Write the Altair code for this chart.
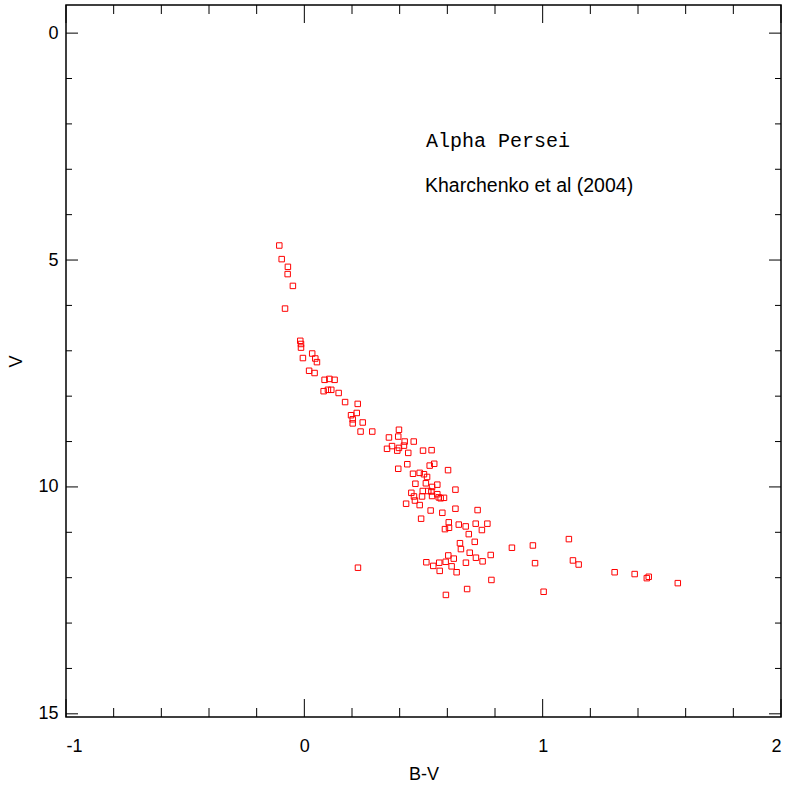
import altair as alt
import pandas as pd

# ---- data ----
bv = [-0.105, -0.095, -0.069, -0.070, -0.048, -0.081, -0.017, -0.014, -0.014, -0.006,
      0.033, 0.046, 0.053, 0.020, 0.043, 0.085, 0.105, 0.127, 0.081, 0.099,
      0.113, 0.144, 0.171, 0.224, 0.220, 0.196, 0.203, 0.203, 0.245, 0.236,
      0.285, 0.397, 0.355, 0.394, 0.421, 0.459, 0.418, 0.368, 0.347, 0.390,
      0.397, 0.436, 0.498, 0.534, 0.432, 0.394, 0.526, 0.545, 0.603, 0.456,
      0.484, 0.502, 0.515, 0.466, 0.510, 0.558, 0.536, 0.634, 0.449, 0.497,
      0.520, 0.533, 0.460, 0.494, 0.536, 0.558, 0.564, 0.572, 0.586, 0.464,
      0.427, 0.484, 0.530, 0.579, 0.634, 0.727, 0.490, 0.606, 0.648, 0.677,
      0.719, 0.768, 0.590, 0.607, 0.745, 0.690, 0.715, 0.653, 0.657, 0.694,
      0.782, 0.871, 0.604, 0.720, 0.748, 0.627, 0.512, 0.566, 0.593, 0.678,
      0.541, 0.618, 0.568, 0.639, 0.785, 0.683, 0.594, 0.959, 1.110, 0.968,
      1.127, 1.151, 1.004, 1.302, 1.386, 1.437, 1.445, 1.567, 0.225]
vmag = [4.68, 4.98, 5.15, 5.31, 5.57, 6.07, 6.78, 6.85, 6.93, 7.16,
        7.06, 7.17, 7.25, 7.44, 7.49, 7.64, 7.62, 7.64, 7.89, 7.86,
        7.86, 7.93, 8.13, 8.17, 8.37, 8.42, 8.51, 8.60, 8.58, 8.78,
        8.78, 8.74, 8.91, 8.89, 9.00, 9.00, 9.09, 9.10, 9.16, 9.20,
        9.14, 9.25, 9.20, 9.19, 9.50, 9.60, 9.53, 9.49, 9.63, 9.71,
        9.69, 9.72, 9.78, 9.93, 9.92, 9.95, 10.00, 10.06, 10.13, 10.09,
        10.09, 10.10, 10.21, 10.21, 10.20, 10.16, 10.23, 10.25, 10.24, 10.30,
        10.37, 10.40, 10.52, 10.57, 10.48, 10.51, 10.70, 10.78, 10.83, 10.87,
        10.81, 10.81, 10.93, 10.90, 10.95, 11.04, 11.21, 11.24, 11.37, 11.45,
        11.50, 11.34, 11.51, 11.56, 11.64, 11.58, 11.66, 11.67, 11.65, 11.67,
        11.74, 11.75, 11.85, 11.88, 12.05, 12.25, 12.38, 11.29, 11.15, 11.68,
        11.62, 11.71, 12.31, 11.88, 11.92, 12.01, 11.98, 12.12, 11.78]

x_major = [-1, 0, 1, 2]
x_minor = [-0.8, -0.6, -0.4, -0.2, 0.2, 0.4, 0.6, 0.8, 1.2, 1.4, 1.6, 1.8]
y_major = [0, 5, 10, 15]
y_minor = [1, 2, 3, 4, 6, 7, 8, 9, 11, 12, 13, 14]

title_text = ["Alpha Persei"]
source_text = ["Kharchenko et al (2004)"]

W, H = 715, 712
FONT = "Liberation Sans"

xscale = alt.Scale(domain=[-1, 2], nice=False, zero=False)
yscale = alt.Scale(domain=[-0.62, 15.07], nice=False, zero=False, reverse=True)
xaxis = alt.Axis(values=x_major, ticks=False, domain=False, grid=False,
                 labelPadding=20, titlePadding=10, labelExpr="'' + datum.value")
yaxis = alt.Axis(values=y_major, ticks=False, domain=False, grid=False,
                 labelPadding=8, titlePadding=12, labelExpr="'' + datum.value")

stars = pd.DataFrame({"bv": bv, "v": vmag})

points = alt.Chart(stars).mark_point(
    shape="square", filled=False, size=30, strokeWidth=1, color="#ff0000", opacity=1
).encode(
    x=alt.X("bv:Q", scale=xscale, title="B-V", axis=xaxis),
    y=alt.Y("v:Q", scale=yscale, title="V", axis=yaxis),
)

def xticks(vals, length):
    df = pd.DataFrame({"bv": vals})
    base = alt.Chart(df).mark_rule(color="black", strokeWidth=1)
    enc_x = alt.X("bv:Q", scale=xscale, title="B-V", axis=xaxis)
    bottom = base.encode(x=enc_x, y=alt.value(H), y2=alt.value(H - length))
    top = base.encode(x=enc_x, y=alt.value(0), y2=alt.value(length))
    return [bottom, top]

def yticks(vals, length):
    df = pd.DataFrame({"v": vals})
    base = alt.Chart(df).mark_rule(color="black", strokeWidth=1)
    enc_y = alt.Y("v:Q", scale=yscale, title="V", axis=yaxis)
    left = base.encode(y=enc_y, x=alt.value(0), x2=alt.value(length))
    right = base.encode(y=enc_y, x=alt.value(W), x2=alt.value(W - length))
    return [left, right]

tick_layers = (xticks(x_major, 18) + xticks(x_minor, 9) +
               yticks(y_major, 12) + yticks(y_minor, 6))

title_mark = alt.Chart(pd.DataFrame({"t": title_text})).mark_text(
    align="left", baseline="alphabetic", font="Liberation Mono", fontSize=20, color="black"
).encode(text="t:N", x=alt.value(360), y=alt.value(142))

source_mark = alt.Chart(pd.DataFrame({"t": source_text})).mark_text(
    align="left", baseline="alphabetic", font=FONT, fontSize=19.5, color="black"
).encode(text="t:N", x=alt.value(359), y=alt.value(187))

chart = alt.layer(points, *tick_layers, title_mark, source_mark).properties(
    width=W, height=H,
    autosize=alt.AutoSizeParams(type="none"),
    padding={"left": 66, "top": 5, "right": 4, "bottom": 68},
).configure_view(
    stroke="black", strokeWidth=1.5
).configure_axis(
    labelFont=FONT, titleFont=FONT, labelFontSize=18, titleFontSize=18,
    labelColor="black", titleColor="black", titleFontWeight="normal"
)

chart.save("out.html", embed_options={"renderer": "svg", "actions": False})
